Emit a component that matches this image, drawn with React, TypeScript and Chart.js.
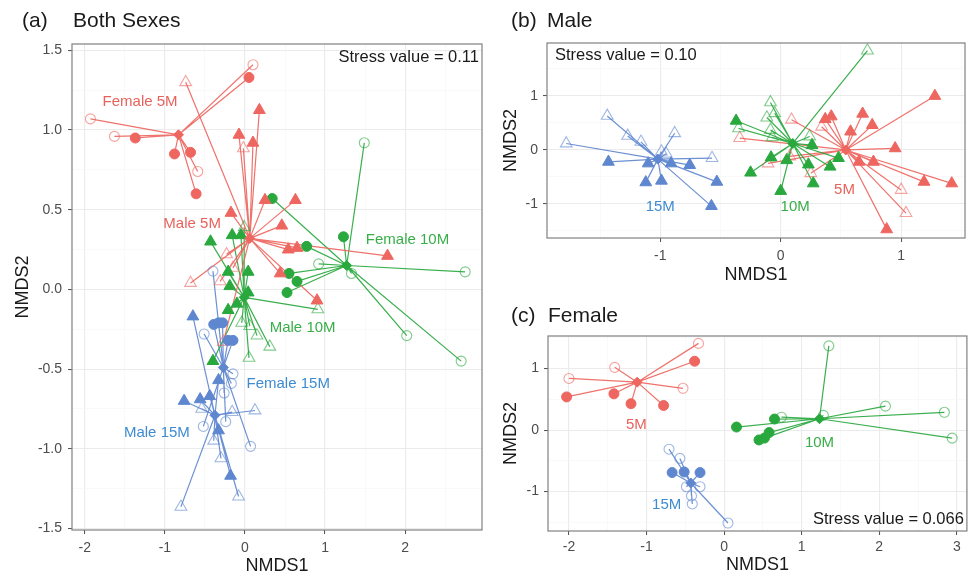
import React, { useEffect, useRef } from 'react';
import { Chart, registerables } from 'chart.js';

Chart.register(...registerables);

type P = [number, number];

const FONT = "'Liberation Sans', Arial, Helvetica, sans-serif";
Chart.defaults.font.family = FONT;

const RED = '#EE6660';
const GREEN = '#29A83E';
const BLUE = '#5E87CF';
const RED_T = '#E8625C';
const GREEN_T = '#38AE48';
const BLUE_T = '#3E8BD0';

// ---------------- Panel (a): Both sexes ----------------
const aF5Centroid: P = [-0.83, 0.97];
const aF5Filled: P[] = [[0.05, 1.33], [-1.37, 0.95], [-0.88, 0.85], [-0.68, 0.86], [-0.61, 0.6]];
const aF5Hollow: P[] = [[0.1, 1.41], [-1.93, 1.07], [-1.63, 0.96], [-0.59, 0.74]];

const aM5Centroid: P = [0.06, 0.32];
const aM5Filled: P[] = [
  [0.18, 1.125], [-0.075, 0.97], [0.1, 0.92], [0.25, 0.56], [-0.175, 0.48], [0.63, 0.56],
  [0.46, 0.4], [0.65, 0.26], [0.54, 0.25], [1.78, 0.21], [0.44, 0.1], [0.9, -0.07],
];
const aM5Hollow: P[] = [
  [-0.74, 1.3], [-0.02, 0.885], [-0.68, 0.04], [-0.31, 0.05], [-0.23, 0.22], [-0.15, 0.135], [-0.27, -0.33],
];

const aF10Centroid: P = [1.27, 0.15];
const aF10Filled: P[] = [[0.34, 0.57], [1.23, 0.33], [0.77, 0.27], [0.55, 0.1], [0.65, 0.05], [0.525, -0.02]];
const aF10Hollow: P[] = [[1.49, 0.92], [0.92, 0.16], [1.33, 0.1], [2.75, 0.11], [2.02, -0.29], [2.7, -0.45]];

const aM10Centroid: P = [-0.01, -0.05];
const aM10Filled: P[] = [
  [-0.43, 0.3], [-0.16, 0.34], [-0.05, 0.34], [0.04, 0.11], [-0.21, 0.11], [-0.19, 0.02],
  [0.04, -0.02], [-0.1, -0.09], [-0.21, -0.13], [-0.4, -0.45],
];
const aM10Hollow: P[] = [[-0.01, 0.39], [0.91, -0.125], [-0.04, -0.21], [0.06, -0.23], [0.15, -0.29], [0.31, -0.36], [0.05, -0.43]];

const aF15Centroid: P = [-0.27, -0.49];
const aF15Filled: P[] = [[-0.39, -0.22], [-0.33, -0.21], [-0.28, -0.21], [-0.21, -0.32], [-0.15, -0.32]];
const aF15Hollow: P[] = [
  [-0.51, -0.28], [-0.4, 0.115], [-0.15, -0.53], [-0.17, -0.59], [-0.26, -0.65], [-0.52, -0.86], [-0.24, -0.83], [0.07, -0.985],
];

const aM15Centroid: P = [-0.375, -0.79];
const aM15Filled: P[] = [[-0.65, -0.17], [-0.76, -0.7], [-0.56, -0.69], [-0.44, -0.67], [-0.33, -0.57], [-0.33, -0.885], [-0.18, -1.17]];
const aM15Hollow: P[] = [[0.125, -0.76], [-0.16, -0.77], [-0.54, -0.75], [-0.39, -0.95], [-0.3, -1.06], [-0.08, -1.3], [-0.8, -1.365]];

const aLabelTexts = ['Female 5M', 'Male 5M', 'Female 10M', 'Male 10M', 'Female 15M', 'Male 15M'];
const aLabelX = [-1.31, -0.66, 2.03, 0.72, 0.54, -1.1];
const aLabelY = [1.18, 0.41, 0.31, -0.24, -0.59, -0.9];
const aLabelColors = [RED_T, RED_T, GREEN_T, GREEN_T, BLUE_T, BLUE_T];

const aXTicks = [-2, -1, 0, 1, 2];
const aYTicks = [-1.5, -1, -0.5, 0, 0.5, 1, 1.5];

// ---------------- Panel (b): Male ----------------
const b15Centroid: P = [-1.02, -0.17];
const b15Filled: P[] = [[-1.43, -0.22], [-1.1, -0.25], [-0.91, -0.25], [-0.755, -0.28], [-1.12, -0.6], [-0.99, -0.57], [-0.53, -0.59], [-0.575, -1.04]];
const b15Hollow: P[] = [[-1.78, 0.12], [-1.44, 0.63], [-1.27, 0.26], [-1.16, 0.15], [-0.88, 0.31], [-0.99, -0.03], [-0.95, -0.07], [-0.57, -0.15]];

const b10Centroid: P = [0.1, 0.12];
const b10Filled: P[] = [[-0.37, 0.54], [-0.08, -0.14], [0.05, -0.19], [-0.25, -0.42], [0.0, -0.76], [0.23, -0.27], [0.27, -0.62], [0.26, 0.09], [0.41, -0.31], [0.48, -0.15]];
const b10Hollow: P[] = [[0.72, 1.84], [-0.085, 0.88], [-0.115, 0.6], [-0.05, 0.68], [-0.085, 0.37], [-0.07, 0.235], [-0.35, 0.4], [0.24, 0.25]];

const b5Centroid: P = [0.54, 0.0];
const b5Filled: P[] = [[1.28, 1.0], [1.42, -0.62], [1.19, -0.59], [0.95, 0.03], [0.88, -1.47], [0.68, 0.67], [0.76, 0.46], [0.77, -0.22], [0.65, -0.22], [0.58, 0.34], [0.42, 0.62], [0.37, 0.57]];
const b5Hollow: P[] = [[1.0, -0.74], [1.04, -1.17], [0.09, 0.56], [-0.34, 0.22], [-0.105, -0.25], [0.25, -0.43], [0.34, 0.43], [0.075, -0.12]];

const bLabelTexts = ['15M', '10M', '5M'];
const bLabelX = [-1.0, 0.12, 0.53];
const bLabelY = [-1.05, -1.05, -0.74];
const bLabelColors = [BLUE_T, GREEN_T, RED_T];

const bXTicks = [-1, 0, 1];
const bYTicks = [-1, 0, 1];

// ---------------- Panel (c): Female ----------------
const c5Centroid: P = [-1.12, 0.78];
const c5Filled: P[] = [[-0.38, 1.12], [-2.03, 0.54], [-1.42, 0.59], [-1.2, 0.43], [-0.78, 0.4]];
const c5Hollow: P[] = [[-0.33, 1.41], [-1.41, 1.02], [-2.0, 0.84], [-0.53, 0.68]];

const c15Centroid: P = [-0.43, -0.86];
const c15Filled: P[] = [[-0.67, -0.69], [-0.515, -0.68], [-0.31, -0.69]];
const c15Hollow: P[] = [[-0.71, -0.31], [-0.57, -0.46], [-0.31, -0.92], [-0.485, -0.92], [-0.42, -1.07], [-0.41, -1.2], [0.05, -1.51]];

const c10Centroid: P = [1.23, 0.185];
const c10Filled: P[] = [[0.65, 0.18], [0.16, 0.05], [0.58, -0.04], [0.52, -0.13], [0.45, -0.16]];
const c10Hollow: P[] = [[1.35, 1.37], [2.08, 0.39], [2.84, 0.29], [2.94, -0.13], [1.28, 0.24], [0.74, 0.21]];

const cLabelTexts = ['5M', '15M', '10M'];
const cLabelX = [-1.13, -0.74, 1.23];
const cLabelY = [0.09, -1.22, -0.2];
const cLabelColors = [RED_T, BLUE_T, GREEN_T];

const cXTicks = [-2, -1, 0, 1, 2, 3];
const cYTicks = [-1, 0, 1];

// ---------------- helpers ----------------
interface Group { color: string; shape: 'circle' | 'triangle'; centroid: P; filled: P[]; hollow: P[] }

function withAlpha(hex: string, a: number) {
  const r = parseInt(hex.slice(1, 3), 16), g = parseInt(hex.slice(3, 5), 16), b = parseInt(hex.slice(5, 7), 16);
  return `rgba(${r},${g},${b},${a})`;
}

const xy = (p: P) => ({ x: p[0], y: p[1] });

function groupDatasets(g: Group): any[] {
  const seg: any[] = [];
  for (const p of [...g.filled, ...g.hollow]) {
    seg.push(xy(g.centroid), xy(p), { x: NaN, y: NaN });
  }
  const r = g.shape === 'triangle' ? 6.8 : 5;
  return [
    {
      data: seg, showLine: true, spanGaps: false, borderColor: withAlpha(g.color, 0.92), borderWidth: 1.2,
      pointRadius: 0, pointHoverRadius: 0, order: 10,
    },
    {
      data: g.hollow.map(xy), pointStyle: g.shape, pointRadius: r, pointBackgroundColor: 'rgba(0,0,0,0)',
      pointBorderColor: withAlpha(g.color, 0.6), pointBorderWidth: 1.1, order: 6,
    },
    {
      data: g.filled.map(xy), pointStyle: g.shape, pointRadius: r, pointBackgroundColor: g.color,
      pointBorderColor: g.color, pointBorderWidth: 1, order: 3,
    },
    {
      data: [xy(g.centroid)], pointStyle: 'rectRot', pointRadius: 5, pointBackgroundColor: g.color,
      pointBorderColor: g.color, pointBorderWidth: 1, order: 1,
    },
  ];
}

const near = (a: number, list: number[]) => list.some((m) => Math.abs(m - a) < 1e-6);

interface AxisSpec {
  min: number; max: number; major: number[]; minorStep: number; decimals: number;
  size: number; tickPad: number; title: string; titlePad: number; horizontal: boolean;
}

function axis(s: AxisSpec) {
  const minor: number[] = [];
  for (let i = 0; i < s.major.length + 1; i++) {
    const base = i < s.major.length ? s.major[i] : s.major[s.major.length - 1] + s.minorStep * 2;
    minor.push(base - s.minorStep);
  }
  minor.push(s.major[s.major.length - 1] + s.minorStep);
  const all = Array.from(new Set([...s.major, ...minor].map((v) => Math.round(v * 1000) / 1000)))
    .filter((v) => v >= s.min && v <= s.max)
    .sort((a, b) => a - b);
  return {
    type: 'linear',
    min: s.min,
    max: s.max,
    afterBuildTicks: (sc: any) => { sc.ticks = all.map((v) => ({ value: v })); },
    afterFit: (sc: any) => { if (s.horizontal) sc.height = s.size; else sc.width = s.size; },
    ticks: {
      autoSkip: false, maxRotation: 0, minRotation: 0, padding: s.tickPad, color: '#4D4D4D',
      font: { size: 14, family: FONT },
      callback: (v: number) => (near(v, s.major) ? v.toFixed(s.decimals) : ''),
    },
    grid: {
      color: (ctx: any) => (ctx.tick && near(ctx.tick.value, s.major) ? '#EBEBEB' : '#F5F5F5'),
      lineWidth: (ctx: any) => (ctx.tick && near(ctx.tick.value, s.major) ? 1.1 : 0.6),
      tickLength: 4,
      tickColor: (ctx: any) => (ctx.tick && near(ctx.tick.value, s.major) ? '#4D4D4D' : 'rgba(0,0,0,0)'),
      tickWidth: 1,
    },
    border: { display: false },
    title: {
      display: true, text: s.title, color: '#1A1A1A', font: { size: 18, family: FONT },
      padding: { top: s.titlePad, bottom: s.titlePad },
    },
  };
}

const annotPlugin = {
  id: 'annot',
  afterDatasetsDraw(chart: any, _args: any, opts: any) {
    const { ctx, chartArea, scales } = chart;
    ctx.save();
    ctx.textAlign = 'center';
    ctx.textBaseline = 'middle';
    ctx.font = `15px ${FONT}`;
    opts.texts.forEach((t: string, i: number) => {
      ctx.fillStyle = opts.colors[i];
      ctx.fillText(t, scales.x.getPixelForValue(opts.xs[i]), scales.y.getPixelForValue(opts.ys[i]));
    });
    ctx.fillStyle = '#1A1A1A';
    ctx.font = `16.5px ${FONT}`;
    const st = opts.stress;
    if (st.corner === 'tr') { ctx.textAlign = 'right'; ctx.fillText(st.text, chartArea.right - 3, chartArea.top + 13); }
    if (st.corner === 'tl') { ctx.textAlign = 'left'; ctx.fillText(st.text, chartArea.left + 8, chartArea.top + 12); }
    if (st.corner === 'br') { ctx.textAlign = 'right'; ctx.fillText(st.text, chartArea.right - 3, chartArea.bottom - 12); }
    ctx.strokeStyle = '#808080';
    ctx.lineWidth = 1.2;
    ctx.strokeRect(chartArea.left, chartArea.top, chartArea.right - chartArea.left, chartArea.bottom - chartArea.top);
    ctx.restore();
  },
};

interface PanelSpec {
  left: number; top: number; width: number; height: number;
  padding: { left: number; right: number; top: number; bottom: number };
  groups: Group[];
  x: AxisSpec; y: AxisSpec;
  labels: { texts: string[]; xs: number[]; ys: number[]; colors: string[] };
  stress: { text: string; corner: string };
}

function Panel({ spec }: { spec: PanelSpec }) {
  const ref = useRef<HTMLCanvasElement>(null);
  useEffect(() => {
    const chart = new Chart(ref.current as HTMLCanvasElement, {
      type: 'scatter',
      data: { datasets: spec.groups.flatMap(groupDatasets) },
      options: {
        animation: false,
        responsive: false,
        maintainAspectRatio: false,
        layout: { padding: spec.padding },
        plugins: {
          legend: { display: false },
          tooltip: { enabled: false },
          annot: { ...spec.labels, stress: spec.stress },
        } as any,
        scales: { x: axis(spec.x) as any, y: axis(spec.y) as any },
      },
      plugins: [annotPlugin],
    });
    return () => chart.destroy();
  }, []);
  return (
    <div style={{ position: 'absolute', left: spec.left, top: spec.top, width: spec.width, height: spec.height }}>
      <canvas ref={ref} width={spec.width} height={spec.height} style={{ width: spec.width, height: spec.height }} />
    </div>
  );
}

const panelA: PanelSpec = {
  left: 0, top: 0, width: 490, height: 578,
  padding: { left: 0, right: 8, top: 44, bottom: 0 },
  groups: [
    { color: RED, shape: 'circle', centroid: aF5Centroid, filled: aF5Filled, hollow: aF5Hollow },
    { color: RED, shape: 'triangle', centroid: aM5Centroid, filled: aM5Filled, hollow: aM5Hollow },
    { color: GREEN, shape: 'circle', centroid: aF10Centroid, filled: aF10Filled, hollow: aF10Hollow },
    { color: GREEN, shape: 'triangle', centroid: aM10Centroid, filled: aM10Filled, hollow: aM10Hollow },
    { color: BLUE, shape: 'circle', centroid: aF15Centroid, filled: aF15Filled, hollow: aF15Hollow },
    { color: BLUE, shape: 'triangle', centroid: aM15Centroid, filled: aM15Filled, hollow: aM15Hollow },
  ],
  x: { min: -2.16, max: 2.96, major: aXTicks, minorStep: 0.5, decimals: 0, size: 48, tickPad: 5.5, title: 'NMDS1', titlePad: 1.5, horizontal: true },
  y: { min: -1.51, max: 1.54, major: aYTicks, minorStep: 0.25, decimals: 1, size: 72, tickPad: 6, title: 'NMDS2', titlePad: 12, horizontal: false },
  labels: { texts: aLabelTexts, xs: aLabelX, ys: aLabelY, colors: aLabelColors },
  stress: { text: 'Stress value = 0.11', corner: 'tr' },
};

const panelB: PanelSpec = {
  left: 495, top: 0, width: 478, height: 290,
  padding: { left: 0, right: 8, top: 43, bottom: 2 },
  groups: [
    { color: BLUE, shape: 'triangle', centroid: b15Centroid, filled: b15Filled, hollow: b15Hollow },
    { color: GREEN, shape: 'triangle', centroid: b10Centroid, filled: b10Filled, hollow: b10Hollow },
    { color: RED, shape: 'triangle', centroid: b5Centroid, filled: b5Filled, hollow: b5Hollow },
  ],
  x: { min: -1.94, max: 1.53, major: bXTicks, minorStep: 0.5, decimals: 0, size: 50, tickPad: 6, title: 'NMDS1', titlePad: 2, horizontal: true },
  y: { min: -1.63, max: 1.98, major: bYTicks, minorStep: 0.5, decimals: 0, size: 52, tickPad: 5, title: 'NMDS2', titlePad: 5, horizontal: false },
  labels: { texts: bLabelTexts, xs: bLabelX, ys: bLabelY, colors: bLabelColors },
  stress: { text: 'Stress value = 0.10', corner: 'tl' },
};

const panelC: PanelSpec = {
  left: 495, top: 290, width: 478, height: 288,
  padding: { left: 0, right: 5, top: 46, bottom: 0 },
  groups: [
    { color: RED, shape: 'circle', centroid: c5Centroid, filled: c5Filled, hollow: c5Hollow },
    { color: BLUE, shape: 'circle', centroid: c15Centroid, filled: c15Filled, hollow: c15Hollow },
    { color: GREEN, shape: 'circle', centroid: c10Centroid, filled: c10Filled, hollow: c10Hollow },
  ],
  x: { min: -2.27, max: 3.13, major: cXTicks, minorStep: 0.5, decimals: 0, size: 47, tickPad: 3.5, title: 'NMDS1', titlePad: 2, horizontal: true },
  y: { min: -1.64, max: 1.53, major: cYTicks, minorStep: 0.5, decimals: 0, size: 53, tickPad: 5, title: 'NMDS2', titlePad: 5, horizontal: false },
  labels: { texts: cLabelTexts, xs: cLabelX, ys: cLabelY, colors: cLabelColors },
  stress: { text: 'Stress value = 0.066', corner: 'br' },
};

const titleStyle = (left: number, top: number): React.CSSProperties => ({
  position: 'absolute', left, top, fontFamily: FONT, fontSize: 21, lineHeight: '21px', color: '#1A1A1A', whiteSpace: 'nowrap',
});

export default function App() {
  return (
    <div style={{ position: 'absolute', left: 0, top: 0, width: 973, height: 578, background: '#FFFFFF', overflow: 'hidden' }}>
      <Panel spec={panelA} />
      <Panel spec={panelB} />
      <Panel spec={panelC} />
      <div style={titleStyle(22, 9)}>(a)</div>
      <div style={titleStyle(73, 9)}>Both Sexes</div>
      <div style={titleStyle(511, 9)}>(b)</div>
      <div style={titleStyle(547, 9)}>Male</div>
      <div style={titleStyle(511, 304)}>(c)</div>
      <div style={titleStyle(548, 304)}>Female</div>
    </div>
  );
}
